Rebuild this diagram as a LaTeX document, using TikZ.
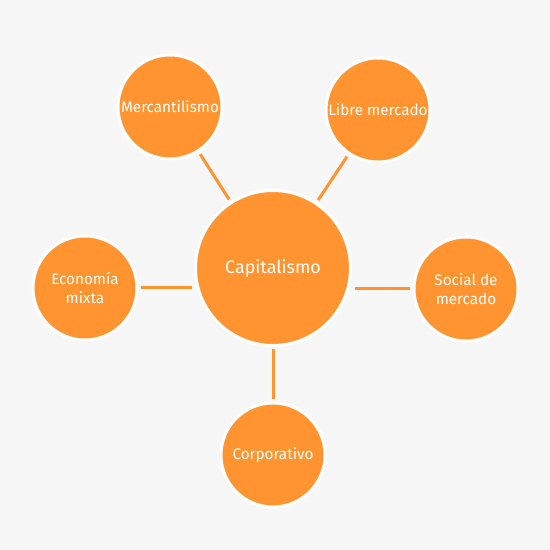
\documentclass[tikz,border=0pt]{standalone}
\usepackage{fontspec}
\setmainfont{Fira Sans}
\usetikzlibrary{positioning}
\definecolor{bgpaper}{HTML}{F7F7F7}
\definecolor{mainorange}{HTML}{FF9430}

\begin{document}
\begin{tikzpicture}[
        font=\fontsize{8.7}{10.4}\selectfont,
        bubble/.style={circle, fill=mainorange, draw=white, line width=0.06cm,
                       text=white, align=center, minimum size=2.08cm, inner sep=0pt},
        hub/.style={bubble, minimum size=3.1cm, font=\fontsize{10.2}{12}\selectfont},
        link/.style={draw=mainorange, line width=0.06cm, shorten <=0.05cm, shorten >=0.05cm}
    ]
        % background
        \fill[bgpaper] (0,0) rectangle (11,11);
        \useasboundingbox (0,0) rectangle (11,11);

        % central concept
        \node[hub] (capital) at (5.46,5.64) {Capitalismo};

        % surrounding variants
        \node[bubble] (merc)   at (3.40,8.86) {Mercantilismo};
        \node[bubble] (libre)  at (7.56,8.80) {Libre mercado};
        \node[bubble] (mixta)  at (1.70,5.24) {Economía\\mixta};
        \node[bubble] (social) at (9.32,5.22) {Social de\\mercado};
        \node[bubble] (corp)   at (5.46,1.90) {Corporativo};

        % connectors
        \draw[link] (capital) -- (merc);
        \draw[link] (capital) -- (libre);
        \draw[link] (mixta.east) -- (mixta.east -| capital.west);
        \draw[link] (capital.east |- social.west) -- (social.west);
        \draw[link] (capital) -- (corp);
    \end{tikzpicture}
\end{document}
